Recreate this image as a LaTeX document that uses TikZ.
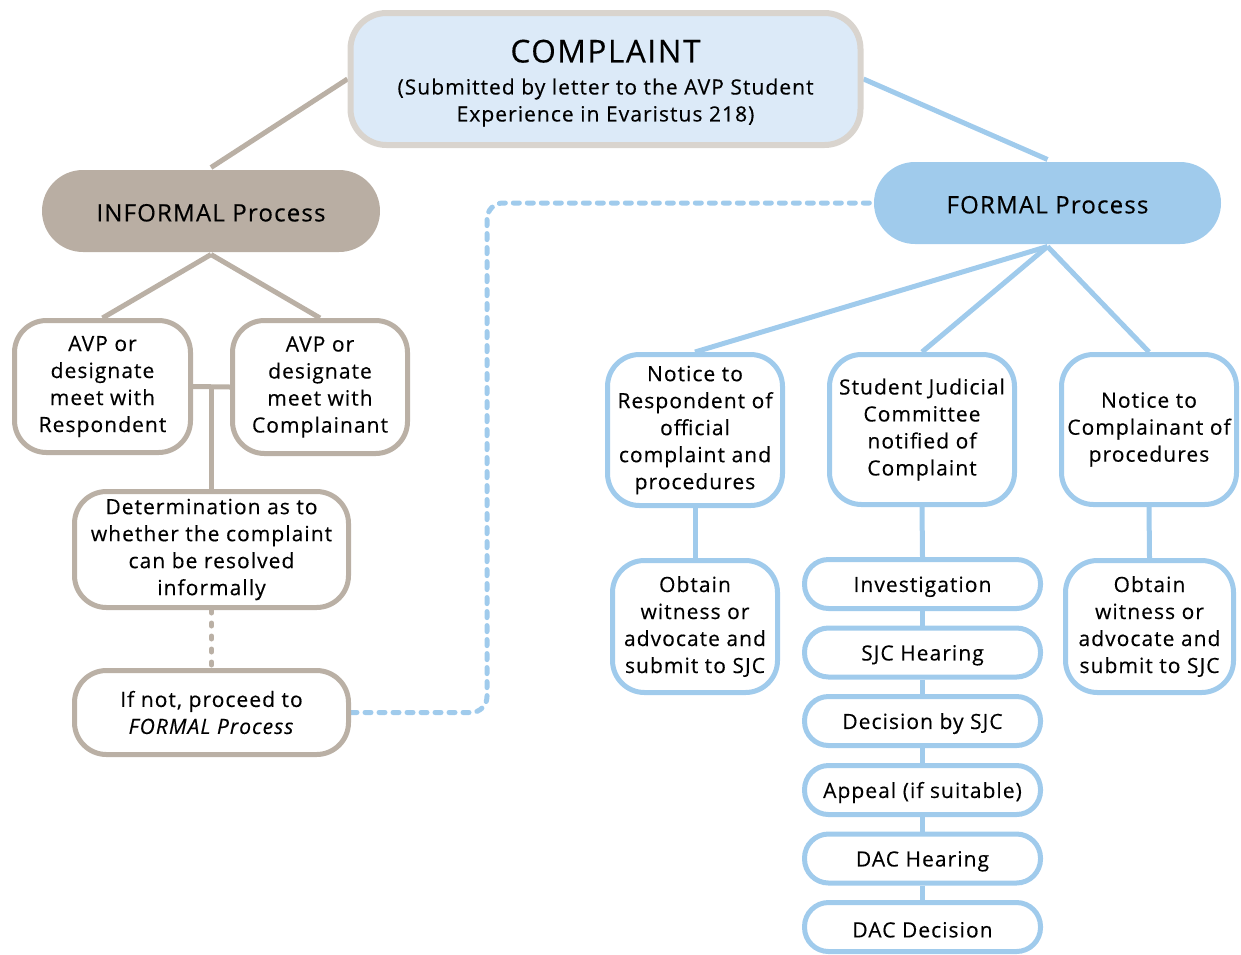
\documentclass[tikz,border=0pt]{standalone}
\usepackage{fontspec}
\setmainfont{Open Sans}[LetterSpace=5,FakeBold=0.3]
\usetikzlibrary{calc,backgrounds}
\definecolor{tanc}{HTML}{BAB0A5}
\definecolor{tanfill}{HTML}{B9AEA3}
\definecolor{compborder}{HTML}{D9D4CE}
\definecolor{compfill}{HTML}{DCEAF8}
\definecolor{bluec}{HTML}{A0CBEC}
\tikzset{
  base/.style={line width=5pt, fill=white, align=center, inner sep=0pt, text=black,
    font=\fontsize{21}{27}\selectfont, execute at begin node={\rule{0pt}{21pt}}},
  gbox/.style={base, draw=tanc, rounded corners=32pt},
  bbox/.style={base, draw=bluec, rounded corners=32pt},
  pill/.style={base, draw=bluec, rounded corners=24pt, minimum width=236pt, minimum height=49pt},
  gline/.style={draw=tanc, line width=5pt},
  bline/.style={draw=bluec, line width=5pt},
  gdot/.style={draw=tanc, line width=5pt, line cap=round, dash pattern=on 3pt off 10pt},
  bdash/.style={draw=bluec, line width=5pt, line cap=round, dash pattern=on 6pt off 8pt, rounded corners=16pt},
}
\begin{document}
\begin{tikzpicture}[x=1pt,y=-1pt]
\useasboundingbox (0,0) rectangle (1241,954);
% top
\node[base, draw=compborder, fill=compfill, line width=6pt, rounded corners=36pt,
  minimum width=510pt, minimum height=132pt, execute at begin node={}] (comp) at (605.5,79)
  {\rule{0pt}{31pt}{\fontsize{31.5}{36}\selectfont COMPLAINT}\\[5pt](Submitted by letter to the AVP Student\\Experience in Evaristus 218)};
\node[base, draw=none, fill=tanfill, rounded corners=41pt, minimum width=338pt, minimum height=82pt,
  font=\fontsize{24}{27}\selectfont] (inf) at (211,211) {INFORMAL Process};
\node[base, draw=none, fill=bluec, rounded corners=41pt, minimum width=347pt, minimum height=82pt,
  font=\fontsize{24}{27}\selectfont] (form) at (1047.5,203) {FORMAL Process};
% informal boxes
\node[gbox, minimum width=176pt, minimum height=132pt] (avpr) at (102.5,386.5)
  {AVP or\\designate\\meet with\\Respondent};
\node[gbox, minimum width=175pt, minimum height=133pt] (avpc) at (320,387)
  {AVP or\\designate\\meet with\\Complainant};
\node[gbox, minimum width=274pt, minimum height=116pt] (det) at (211.5,549.5)
  {Determination as to\\whether the complaint\\can be resolved\\informally};
\node[gbox, minimum width=274pt, minimum height=84pt] (ifn) at (211.5,712.5)
  {If not, proceed to\\\textit{FORMAL Process}};
% formal boxes
\node[bbox, minimum width=175pt, minimum height=151pt] (nr) at (695,430)
  {Notice to\\Respondent of\\official\\complaint and\\procedures};
\node[bbox, minimum width=185pt, minimum height=150pt] (sjc) at (922,429.5)
  {Student Judicial\\Committee\\notified of\\Complaint};
\node[bbox, minimum width=175pt, minimum height=150pt] (nc) at (1149,429.5)
  {Notice to\\Complainant of\\procedures};
\node[bbox, minimum width=165pt, minimum height=132pt] (obl) at (695,626.5)
  {Obtain\\witness or\\advocate and\\submit to SJC};
\node[bbox, minimum width=168pt, minimum height=132pt] (obr) at (1149.5,626.5)
  {Obtain\\witness or\\advocate and\\submit to SJC};
\node[pill] (inv) at (922.5,584) {Investigation};
\node[pill] (sjh) at (922.5,652.5) {SJC Hearing};
\node[pill] (dec) at (922.5,721) {Decision by SJC};
\node[pill] (app) at (922.5,790) {Appeal (if suitable)};
\node[pill] (dah) at (922.5,858.5) {DAC Hearing};
\node[pill] (dad) at (922.5,927) {DAC Decision};
% connectors (behind nodes)
\begin{scope}[on background layer]
\draw[gline] (comp.west) -- (inf.north);
\draw[bline] (comp.east) -- (form.north);
\draw[gline] (inf.south) -- (avpr.north);
\draw[gline] (inf.south) -- (avpc.north);
\draw[gline] (avpr.east) -- (avpc.west);
\coordinate (mid) at ($(avpr.east)!0.5!(avpc.west)$);
\draw[gline] (mid) -- (mid |- det.north);
\draw[gdot] (det.south) -- (ifn.north);
\coordinate (c1) at (487,712.5);
\coordinate (c2) at (487,203);
\draw[bdash] (ifn.east) -- (c1) -- (c2) -- (form.west);
\draw[bline] (form.south) -- (nr.north);
\draw[bline] (form.south) -- (sjc.north);
\draw[bline] (form.south) -- (nc.north);
\draw[bline] (nr.south) -- (obl.north);
\draw[bline] (nc.south) -- (obr.north);
\draw[bline] (sjc.south) -- (inv.north);
\draw[bline] (inv.south) -- (sjh.north);
\draw[bline] (sjh.south) -- (dec.north);
\draw[bline] (dec.south) -- (app.north);
\draw[bline] (app.south) -- (dah.north);
\draw[bline] (dah.south) -- (dad.north);
\end{scope}
\end{tikzpicture}
\end{document}
